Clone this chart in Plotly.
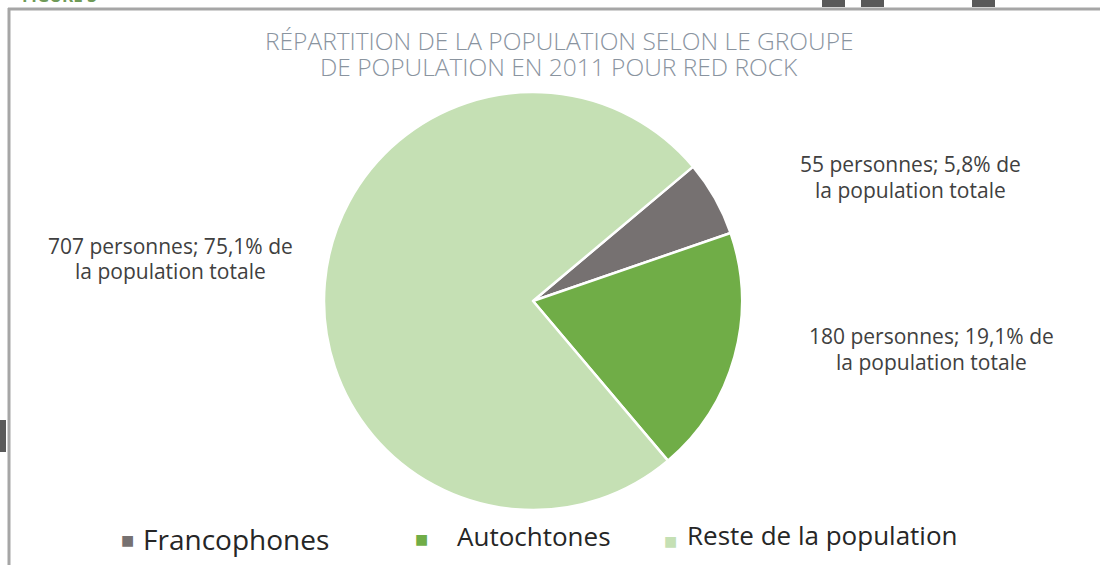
import plotly.graph_objects as go

categories = ["Francophones", "Autochtones", "Reste de la population"]
values = [55, 180, 707]
colors = ["#767171", "#70AD47", "#C5E0B4"]
title_lines = ["RÉPARTITION DE LA POPULATION SELON LE GROUPE",
               "DE POPULATION EN 2011 POUR RED ROCK"]

W, H = 1100, 565
FONT = "Open Sans"


def px(x):
    return x / W


def py(y):
    return 1 - y / H


total = sum(values)


def label_lines(v):
    pct = f"{100 * v / total:.1f}".replace(".", ",")
    return [f"{v} personnes; {pct}% de", "la population totale"]


fig = go.Figure(go.Pie(
    labels=categories, values=values, sort=False, direction="clockwise",
    rotation=50,
    marker=dict(colors=colors, line=dict(color="white", width=2.5)),
    textinfo="none", hoverinfo="label+value+percent", showlegend=False,
    domain=dict(x=[px(324), px(742)], y=[py(510), py(92)]),
))

annotations = []
# title
for line, ty in zip(title_lines, [40, 67]):
    annotations.append(dict(
        text=line, x=px(559), y=py(ty), xref="paper", yref="paper",
        xanchor="center", yanchor="middle", showarrow=False, align="center",
        font=dict(family=FONT, size=24.5, weight=300, color="#8a949f"),
    ))
# data labels (two lines each)
label_pos = [(910, 164, 190), (931, 336, 362), (170, 246, 271)]
for v, (lx, ly1, ly2) in zip(values, label_pos):
    for line, ly in zip(label_lines(v), (ly1, ly2)):
        annotations.append(dict(
            text=line, x=px(lx), y=py(ly), xref="paper", yref="paper",
            xanchor="center", yanchor="middle", showarrow=False, align="center",
            font=dict(family=FONT, size=21, color="#404040"),
        ))
# legend (manual)
leg_sq_x = [127, 421, 670]
leg_sq_y = [540, 539, 541]
leg_txt_x = [141, 455, 685]
leg_sizes = [28, 26, 26]
leg_y = [539, 536, 535]
for cat, col, sx, sy, tx, fs, ly in zip(categories, colors, leg_sq_x, leg_sq_y,
                                         leg_txt_x, leg_sizes, leg_y):
    annotations.append(dict(
        text="■", x=px(sx), y=py(sy), xref="paper", yref="paper",
        xanchor="center", yanchor="middle", showarrow=False,
        font=dict(family="DejaVu Sans", size=14, color=col),
    ))
    annotations.append(dict(
        text=cat, x=px(tx), y=py(ly), xref="paper", yref="paper",
        xanchor="left", yanchor="middle", showarrow=False,
        font=dict(family=FONT, size=fs, color="#262626"),
    ))
# cut-off figure caption at the very top
annotations.append(dict(
    text="<b>FIGURE 3</b>", x=px(20), y=py(9), xref="paper", yref="paper",
    xanchor="left", yanchor="bottom", showarrow=False,
    font=dict(family=FONT, size=17, color="#6f9a57"),
))

shapes = [
    dict(type="line", xref="paper", yref="paper", x0=px(8), x1=px(1100), y0=py(9), y1=py(9),
         line=dict(color="#a6a6a6", width=3)),
    dict(type="line", xref="paper", yref="paper", x0=px(9), x1=px(9), y0=py(8), y1=py(565),
         line=dict(color="#a6a6a6", width=3)),
]
for (x0, y0, x1, y1) in [(822, -2, 845, 7), (861, -2, 884, 7), (972, -2, 995, 7), (-2, 420, 6, 452)]:
    shapes.append(dict(type="rect", xref="paper", yref="paper", x0=px(x0), x1=px(x1),
                       y0=py(y0), y1=py(y1), fillcolor="#595959", line=dict(width=0)))

fig.update_layout(
    width=W, height=H, margin=dict(l=0, r=0, t=0, b=0),
    paper_bgcolor="white", plot_bgcolor="white",
    annotations=annotations, shapes=shapes,
)

fig.write_html("out.html", config={"displayModeBar": False},
               post_script="document.body.style.margin='0';document.body.style.overflow='hidden';")
